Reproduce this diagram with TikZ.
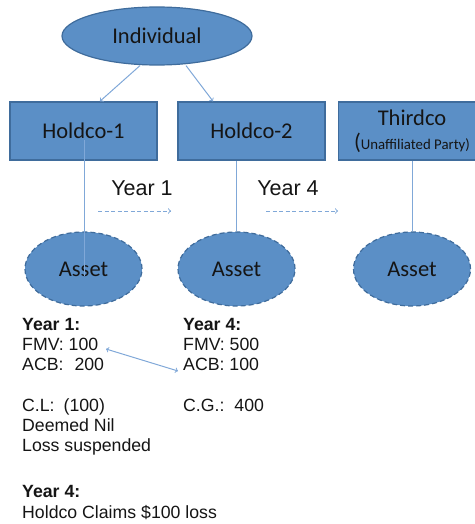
\documentclass[tikz,border=0pt]{standalone}
\usepackage{fontspec}
\setmainfont{Liberation Sans}
\newfontfamily\calibfont{Carlito}
\usetikzlibrary{arrows,positioning,shapes.geometric}
\definecolor{orgFill}{HTML}{5B8FC6}
\definecolor{orgEdge}{HTML}{3F6C9C}
\definecolor{orgLine}{HTML}{80A8D8}
\definecolor{orgText}{HTML}{151515}

\begin{document}
\begin{tikzpicture}[
  x=1pt, y=-1pt,
  >=to,
  person/.style={
    ellipse,
    draw=orgEdge,
    line width=1.2pt,
    fill=orgFill,
    minimum width=190pt,
    minimum height=58pt,
    inner sep=0pt,
    text=orgText,
    font=\calibfont\fontsize{22.5}{24}\selectfont
  },
  entity/.style={
    draw=orgEdge,
    line width=1.5pt,
    fill=orgFill,
    minimum width=147pt,
    minimum height=58pt,
    inner sep=0pt,
    align=center,
    text=orgText,
    font=\calibfont\fontsize{22.5}{24}\selectfont
  },
  asset/.style={
    ellipse,
    draw=orgEdge,
    dash pattern=on 5pt off 3pt,
    line width=1.2pt,
    fill=orgFill,
    minimum width=117pt,
    minimum height=74pt,
    inner sep=0pt,
    text=orgText,
    font=\calibfont\fontsize{22.5}{24}\selectfont
  },
  link/.style={draw=orgLine, line width=1pt},
  yearlabel/.style={text=orgText, font=\fontsize{21.5}{24}\selectfont},
  notes/.style={
    anchor=north west,
    inner sep=0pt,
    align=left,
    text=orgText,
    font=\fontsize{17.7}{20.2}\selectfont
  }
]
  \useasboundingbox (0,0) rectangle (474,524);

  \node[person] (indiv) at (157,36) {Individual};
  \node[entity] (hold1) at (83.5,131) {Holdco-1};
  \node[entity] (hold2) at (251.5,131) {Holdco-2};
  \node[entity] (third) at (412,131)
    {Thirdco\\(\fontsize{14.8}{24}\selectfont Unaffiliated Party)};

  \node[asset] (asset1) at (83.5,269) {Asset};
  \node[asset] (asset2) at (236.5,269) {Asset};
  \node[asset] (asset3) at (412,269) {Asset};

  \draw[link,->] ([xshift=-17pt]indiv.south) -- ([xshift=16.5pt]hold1.north);
  \draw[link,->] ([xshift=29pt]indiv.south) -- ([xshift=-38.5pt]hold2.north);

  \coordinate (hold1foot) at (84,140);
  \coordinate (asset1foot) at (84,276);
  \draw[link] (hold1foot) -- (asset1foot);
  \draw[link] (hold2.south -| asset2) -- (asset2.north);
  \draw[link] (third.south -| asset3) -- (asset3.north);

  \node[yearlabel] (yr1) at (142,188) {Year 1};
  \node[yearlabel] (yr4) at (288,188) {Year 4};
  \coordinate (yr1from) at (98,211);
  \coordinate (yr1to) at (171,211);
  \coordinate (yr4from) at (266,211);
  \coordinate (yr4to) at (338,211);
  \draw[link,dash pattern=on 4pt off 2.5pt,->] (yr1from) -- (yr1to);
  \draw[link,dash pattern=on 4pt off 2.5pt,->] (yr4from) -- (yr4to);

  \node[notes] (notes1) at (22,318)
    {\textbf{Year 1:}\\FMV: 100\\ACB:\hspace{11pt}200\\[20.2pt]
     C.L:\hspace{9pt}(100)\\Deemed Nil\\Loss suspended};
  \node[notes] (notes4) at (183,318)
    {\textbf{Year 4:}\\FMV: 500\\ACB: 100\\[20.2pt]C.G.:\hspace{10pt}400};
  \node[notes] (claim) at (22,485.5)
    {\textbf{Year 4:}\\Holdco Claims \$100 loss};

  \coordinate (fmvend) at (106,349);
  \coordinate (acbend) at (178,371);
  \draw[link,<->] (fmvend) -- (acbend);
\end{tikzpicture}
\end{document}
